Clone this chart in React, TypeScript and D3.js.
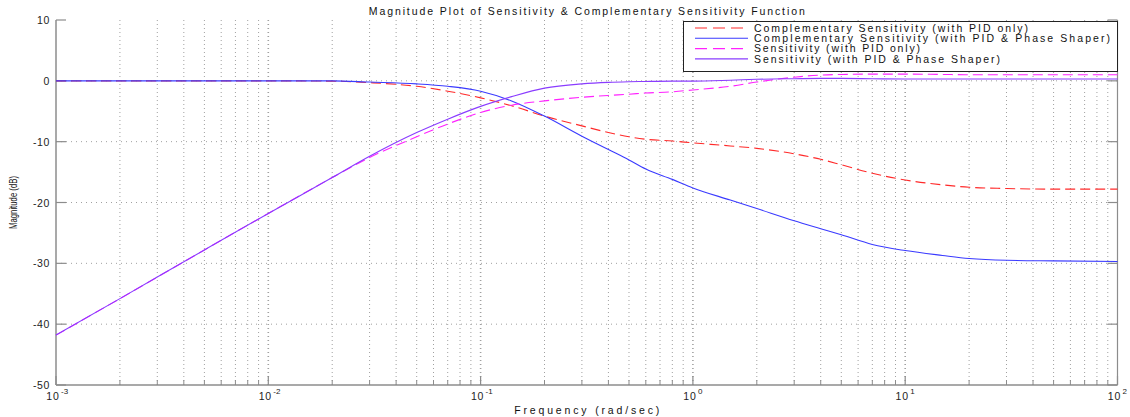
import React from "react";
import * as d3 from "d3";

const freq = [0.001, 0.002, 0.005, 0.01, 0.02, 0.03, 0.05, 0.07, 0.1, 0.14, 0.2, 0.3, 0.4, 0.5, 0.6, 0.8, 1, 1.5, 2, 3, 4, 5, 7, 10, 15, 20, 30, 50, 100];
const compPID = [0, 0, 0, 0, -0.05, -0.3, -0.9, -1.7, -2.8, -4.1, -5.8, -7.4, -8.5, -9.2, -9.6, -9.9, -10.2, -10.7, -11.1, -12.0, -12.9, -13.8, -15.2, -16.3, -17.1, -17.5, -17.7, -17.8, -17.8];
const compPS = [0, 0, 0, 0, 0, -0.2, -0.5, -0.9, -1.7, -3.3, -5.8, -9.1, -11.3, -13.0, -14.5, -16.2, -17.6, -19.6, -21.0, -23.0, -24.3, -25.3, -26.9, -27.9, -28.7, -29.2, -29.5, -29.6, -29.7];
const sensPID = [-41.8, -35.8, -27.8, -21.8, -15.9, -12.6, -9.2, -7.1, -5.2, -4.0, -3.3, -2.7, -2.4, -2.2, -2.0, -1.8, -1.5, -0.9, -0.2, 0.6, 0.95, 1.05, 1.1, 1.1, 1.05, 1.0, 1.0, 1.0, 1.0];
const sensPS = [-41.8, -35.8, -27.8, -21.8, -15.9, -12.4, -8.5, -6.3, -4.2, -2.6, -1.2, -0.5, -0.25, -0.15, -0.1, -0.05, -0.05, 0.1, 0.25, 0.35, 0.4, 0.4, 0.35, 0.3, 0.3, 0.3, 0.3, 0.3, 0.3];

const yTicks = [10, 0, -10, -20, -30, -40, -50];
const xDecades = [-3, -2, -1, 0, 1, 2];

const seriesNames = [
  "Complementary Sensitivity (with PID only)",
  "Complementary Sensitivity (with PID & Phase Shaper)",
  "Sensitivity (with PID only)",
  "Sensitivity (with PID & Phase Shaper)",
];
const seriesData = [compPID, compPS, sensPID, sensPS];
const seriesColors = ["#ff2a2a", "#3a3aff", "#ff22ff", "#8a3cff"];
const seriesDash = ["10,5", null, "10,5", null];
const legendTextWidths = [274, 356, 166, 246];

const titleText = "Magnitude Plot of Sensitivity & Complementary Sensitivity Function";
const xLabelText = "Frequency  (rad/sec)";
const yLabelText = "Magnitude (dB)";

export default function App() {
  const W = 1130, H = 417;
  const left = 56, right = 1117.5, top = 20, bottom = 385;
  const x = d3.scaleLog().domain([1e-3, 1e2]).range([left, right]);
  const y = d3.scaleLinear().domain([-50, 10]).range([bottom, top]);
  const font = "'Liberation Sans', Arial, Helvetica, sans-serif";

  const minor: number[] = [];
  for (let d = -3; d < 2; d++) for (let m = 2; m <= 9; m++) minor.push(m * Math.pow(10, d));
  const major = xDecades.map((d) => Math.pow(10, d));

  const line = d3
    .line<number>()
    .x((_, i) => x(freq[i]))
    .y((v) => y(v))
    .curve(d3.curveMonotoneX);

  const gridColor = "#a0a0a0";
  const axisColor = "#8c8c8c";

  return (
    <svg width={W} height={H} style={{ position: "absolute", left: 0, top: 0, background: "#fff" }} fontFamily={font}>
      {/* grid */}
      {minor.map((f, i) => (
        <line key={"mg" + i} x1={x(f)} x2={x(f)} y1={top} y2={bottom} stroke={gridColor} strokeWidth={1} strokeDasharray="1,3" />
      ))}
      {major.slice(1, -1).map((f, i) => (
        <line key={"Mg" + i} x1={x(f)} x2={x(f)} y1={top} y2={bottom} stroke={gridColor} strokeWidth={1.6} strokeDasharray="1,3" />
      ))}
      {yTicks.slice(1, -1).map((t) => (
        <line key={"hg" + t} x1={left} x2={right} y1={y(t)} y2={y(t)} stroke={gridColor} strokeWidth={1} strokeDasharray="1,4" />
      ))}

      {/* axes */}
      <line x1={left} x2={left} y1={top} y2={bottom} stroke={axisColor} strokeWidth={1.5} />
      <line x1={left} x2={right} y1={bottom} y2={bottom} stroke={axisColor} strokeWidth={1.5} />
      <line x1={right} x2={right} y1={top} y2={bottom} stroke={axisColor} strokeWidth={1.2} />
      {yTicks.map((t) => (
        <g key={"yt" + t}>
          <line x1={left} x2={left + 10} y1={y(t)} y2={y(t)} stroke={axisColor} strokeWidth={1.2} />
          <line x1={right - 10} x2={right} y1={y(t)} y2={y(t)} stroke={axisColor} strokeWidth={1.2} />
          <text x={left - 6} y={y(t) + 4} textAnchor="end" fontSize={10.5} fill="#222" letterSpacing={0.6}>
            {t}
          </text>
        </g>
      ))}
      {minor.map((f, i) => (
        <line key={"mt" + i} x1={x(f)} x2={x(f)} y1={bottom} y2={bottom - 5} stroke={axisColor} strokeWidth={1} />
      ))}
      {xDecades.map((d) => (
        <g key={"xt" + d}>
          <line x1={x(Math.pow(10, d))} x2={x(Math.pow(10, d))} y1={bottom} y2={bottom - 9} stroke={axisColor} strokeWidth={1.2} />
          <text x={x(Math.pow(10, d)) - 3} y={400} textAnchor="middle" fontSize={10.5} fill="#222" letterSpacing={0.8}>
            10
          </text>
          <text x={x(Math.pow(10, d)) + 5} y={394} textAnchor="start" fontSize={8} fill="#222">
            {d}
          </text>
        </g>
      ))}

      {/* curves */}
      {seriesData.map((vals, i) => (
        <path
          key={"s" + i}
          d={line(vals) || ""}
          fill="none"
          stroke={seriesColors[i]}
          strokeWidth={1.1}
          strokeDasharray={seriesDash[i] || undefined}
        />
      ))}

      {/* title & labels */}
      <text x={(left + right) / 2} y={15} textAnchor="middle" fontSize={10.5} fill="#111" textLength={436} lengthAdjust="spacing">
        {titleText}
      </text>
      <text x={(left + right) / 2} y={414} textAnchor="middle" fontSize={10.5} fill="#111" textLength={145} lengthAdjust="spacing">
        {xLabelText}
      </text>
      <text
        transform={`translate(17, ${(top + bottom) / 2}) rotate(-90)`}
        textAnchor="middle"
        fontSize={11.5}
        fill="#111"
        textLength={53}
        lengthAdjust="spacingAndGlyphs"
      >
        {yLabelText}
      </text>

      {/* legend */}
      <g>
        <rect x={683.5} y={21.5} width={434} height={50} fill="#fff" stroke="#222" strokeWidth={1} />
        {seriesNames.map((name, i) => {
          const ry = 28 + i * 10.3;
          return (
            <g key={"lg" + i}>
              <line x1={695} x2={748} y1={ry} y2={ry} stroke={seriesColors[i]} strokeWidth={1.1} strokeDasharray={seriesDash[i] ? "12,6" : undefined} />
              <text x={754} y={ry + 3.8} fontSize={10.5} fill="#111" textLength={legendTextWidths[i]} lengthAdjust="spacing">
                {name}
              </text>
            </g>
          );
        })}
      </g>
    </svg>
  );
}
